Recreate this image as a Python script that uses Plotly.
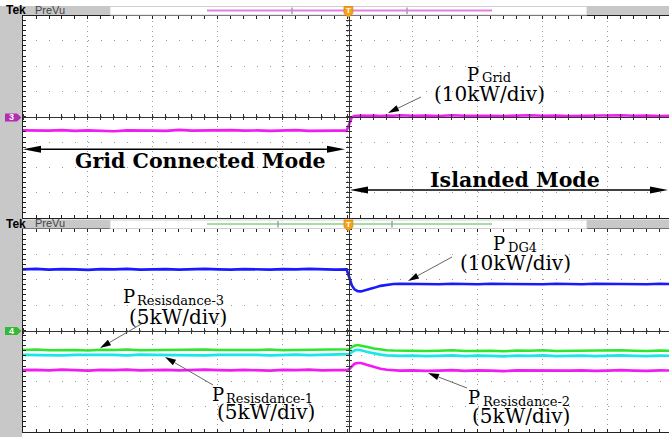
import math
import plotly.graph_objects as go

# ---------------- data (screen divisions, time relative to trigger in divisions) -------------
t_div = [-5.0, -4.8, -4.6, -4.4, -4.2, -4.0, -3.8, -3.6, -3.4, -3.2, -3.0, -2.8, -2.6, -2.4,
         -2.2, -2.0, -1.8, -1.6, -1.4, -1.2, -1.0, -0.8, -0.6, -0.4, -0.2, -0.02,
         0.02, 0.06, 0.10, 0.15, 0.20, 0.3, 0.4, 0.5, 0.6, 0.7, 0.8,
         1.0, 1.2, 1.4, 1.6, 1.8, 2.0, 2.2, 2.4, 2.6, 2.8, 3.0, 3.2, 3.4, 3.6, 3.8,
         4.0, 4.2, 4.4, 4.6, 4.8, 5.0]

# channel 3 : P_Grid (10 kW/div)
p_grid_div = [-0.54, -0.56, -0.55, -0.53, -0.56, -0.54, -0.55, -0.57, -0.54, -0.53, -0.55, -0.56,
              -0.52, -0.55, -0.54, -0.56, -0.53, -0.55, -0.54, -0.56, -0.55, -0.53, -0.56, -0.54,
              -0.55, -0.55,
              -0.30, -0.02, 0.03, 0.04, 0.05, 0.04, 0.05, 0.03, 0.05, 0.04, 0.06,
              0.04, 0.05, 0.03, 0.06, 0.04, 0.05, 0.04, 0.03, 0.05, 0.06, 0.04, 0.05, 0.03,
              0.04, 0.05, 0.04, 0.06, 0.04, 0.05, 0.03, 0.04]

# channel 1 : P_DG4 (10 kW/div)
p_dg4_div = [2.41, 2.43, 2.40, 2.42, 2.41, 2.39, 2.42, 2.41, 2.43, 2.40, 2.41, 2.42, 2.40, 2.41,
             2.43, 2.41, 2.40, 2.42, 2.41, 2.40, 2.42, 2.41, 2.43, 2.41, 2.40, 2.41,
             2.05, 1.78, 1.62, 1.55, 1.54, 1.60, 1.68, 1.76, 1.81, 1.83, 1.84,
             1.83, 1.85, 1.82, 1.84, 1.83, 1.82, 1.84, 1.83, 1.85, 1.83, 1.82, 1.84, 1.83,
             1.82, 1.84, 1.83, 1.85, 1.83, 1.82, 1.84, 1.83]

# P_Resisdance-3 (5 kW/div), green
p_res3_div = [-0.77, -0.75, -0.78, -0.76, -0.77, -0.79, -0.76, -0.77, -0.75, -0.78, -0.77, -0.76,
              -0.78, -0.77, -0.75, -0.77, -0.78, -0.76, -0.77, -0.75, -0.78, -0.77, -0.76, -0.78,
              -0.77, -0.76,
              -0.74, -0.66, -0.60, -0.57, -0.59, -0.65, -0.71, -0.75, -0.78, -0.79, -0.80,
              -0.79, -0.81, -0.80, -0.78, -0.81, -0.79, -0.80, -0.82, -0.79, -0.80, -0.78,
              -0.81, -0.80, -0.79, -0.81, -0.80, -0.78, -0.80, -0.81, -0.79, -0.80]

# P_Resisdance-1 (5 kW/div), cyan
p_res1_div = [-0.96, -0.97, -0.95, -0.98, -0.96, -0.95, -0.97, -0.96, -0.98, -0.95, -0.96, -0.97,
              -0.95, -0.96, -0.98, -0.96, -0.95, -0.97, -0.96, -0.98, -0.96, -0.95, -0.97, -0.96,
              -0.95, -0.96,
              -0.93, -0.85, -0.79, -0.76, -0.78, -0.85, -0.91, -0.95, -0.98, -0.99, -1.00,
              -0.99, -1.01, -1.00, -0.98, -1.01, -0.99, -1.00, -1.02, -0.99, -1.00, -0.98,
              -1.01, -1.00, -0.99, -1.01, -1.00, -0.98, -1.00, -1.01, -0.99, -1.00]

# P_Resisdance-2 (5 kW/div), magenta
p_res2_div = [-1.56, -1.55, -1.57, -1.54, -1.56, -1.58, -1.55, -1.56, -1.54, -1.57, -1.56, -1.55,
              -1.57, -1.56, -1.54, -1.56, -1.57, -1.55, -1.56, -1.58, -1.55, -1.56, -1.54, -1.57,
              -1.56, -1.56,
              -1.52, -1.40, -1.31, -1.28, -1.28, -1.36, -1.44, -1.51, -1.55, -1.57, -1.58,
              -1.57, -1.59, -1.58, -1.56, -1.59, -1.57, -1.58, -1.60, -1.57, -1.58, -1.56,
              -1.59, -1.58, -1.57, -1.59, -1.58, -1.56, -1.58, -1.59, -1.57, -1.58]

# ---------------- geometry helpers (layout positions in window pixels) ----------------
W, H = 669, 437


def fx(x):
    return x / W


def fy(y):
    return 1 - y / H


def path(pts):
    return "M " + " L ".join(f"{fx(x):.5f},{fy(y):.5f}" for x, y in pts) + " Z"


XR = [-5.0, 4.94]
YR = [-4, 4]
XDOM = [fx(23), 1.0]
Y1DOM = [fy(218), fy(15.5)]
Y2DOM = [fy(432), fy(229)]
TRIG_PX = 348.5

GRID_C = "#9a9a9a"
AX_C = "#222222"

fig = go.Figure()

fig.add_trace(go.Scatter(x=t_div, y=p_grid_div, mode="lines",
                         line=dict(color="#f21cf2", width=2.6), xaxis="x", yaxis="y"))
fig.add_trace(go.Scatter(x=t_div, y=p_dg4_div, mode="lines",
                         line=dict(color="#1a1aff", width=2.6), xaxis="x2", yaxis="y2"))
fig.add_trace(go.Scatter(x=t_div, y=p_res1_div, mode="lines",
                         line=dict(color="#19e6e6", width=2.6), xaxis="x2", yaxis="y2"))
fig.add_trace(go.Scatter(x=t_div, y=p_res3_div, mode="lines",
                         line=dict(color="#2ee62e", width=2.6), xaxis="x2", yaxis="y2"))
fig.add_trace(go.Scatter(x=t_div, y=p_res2_div, mode="lines",
                         line=dict(color="#f21cf2", width=2.6), xaxis="x2", yaxis="y2"))

# dummy traces so the crosshair overlay axes get subplots
for xa, ya in [("x3", "y"), ("x4", "y"), ("x", "y3"), ("x", "y4"),
               ("x5", "y2"), ("x6", "y2"), ("x2", "y5"), ("x2", "y6")]:
    fig.add_trace(go.Scatter(x=[None], y=[None], xaxis=xa, yaxis=ya,
                             showlegend=False, hoverinfo="skip"))

minor_ticks = dict(dtick=0.2, tick0=0, ticks="inside", ticklen=3,
                   tickcolor=AX_C, showgrid=False)


def main_x(anchor):
    return dict(domain=XDOM, range=XR, anchor=anchor, dtick=1, tick0=0,
                showgrid=True, gridcolor=GRID_C, griddash="1px,4px", gridwidth=1,
                showline=True, linecolor=AX_C, linewidth=1, mirror="ticks",
                ticks="inside", ticklen=3, tickcolor=AX_C, showticklabels=False,
                zeroline=False, minor=minor_ticks)


def main_y(anchor, dom):
    return dict(domain=dom, range=YR, anchor=anchor, dtick=1, tick0=0,
                showgrid=True, gridcolor=GRID_C, griddash="1px,12px", gridwidth=1,
                showline=True, linecolor=AX_C, linewidth=1, mirror=False,
                ticks="inside", ticklen=3, tickcolor=AX_C, showticklabels=False,
                zeroline=False, minor=minor_ticks)


def cross_x(base, pos, side, line):
    return dict(overlaying=base, anchor="free", position=pos, side=side, domain=XDOM,
                range=XR, showline=line, linecolor="#333333", linewidth=1,
                ticks="outside", ticklen=2.5, tickcolor="#333333", dtick=0.2, tick0=0,
                showticklabels=False, showgrid=False, zeroline=False)


def cross_y(base, dom, side, line):
    return dict(overlaying=base, anchor="free", position=fx(TRIG_PX), side=side,
                domain=dom, range=YR, showline=line, linecolor="#333333", linewidth=1,
                ticks="outside", ticklen=2.5, tickcolor="#333333", dtick=0.2, tick0=0,
                showticklabels=False, showgrid=False, zeroline=False)


c1 = fy((15.5 + 218) / 2)
c2 = fy((229 + 432) / 2)

fig.update_layout(
    width=W, height=H, margin=dict(l=0, r=0, t=0, b=0),
    paper_bgcolor="white", plot_bgcolor="white", showlegend=False,
    xaxis=main_x("y"), yaxis=main_y("x", Y1DOM),
    xaxis2=main_x("y2"), yaxis2=main_y("x2", Y2DOM),
    xaxis3=cross_x("x", c1, "bottom", True), xaxis4=cross_x("x", c1, "top", False),
    yaxis3=cross_y("y", Y1DOM, "left", True), yaxis4=cross_y("y", Y1DOM, "right", False),
    xaxis5=cross_x("x2", c2, "bottom", True), xaxis6=cross_x("x2", c2, "top", False),
    yaxis5=cross_y("y2", Y2DOM, "left", True), yaxis6=cross_y("y2", Y2DOM, "right", False),
)

shapes = []
annotations = []

# left grey strip
shapes.append(dict(type="rect", xref="paper", yref="paper", x0=0, x1=fx(22),
                   y0=0, y1=fy(15), fillcolor="#c8c8c8", line=dict(width=0)))


def header(y0, line_color, brackets):
    y1 = y0 + 9
    shapes.append(dict(type="rect", xref="paper", yref="paper", x0=0, x1=fx(110),
                       y0=fy(y1), y1=fy(y0), fillcolor="#c8c8c8", line=dict(width=0)))
    shapes.append(dict(type="rect", xref="paper", yref="paper", x0=fx(110), x1=fx(587),
                       y0=fy(y1), y1=fy(y0 + 0.5), fillcolor="white",
                       line=dict(color="#d0d0d0", width=1)))
    shapes.append(dict(type="rect", xref="paper", yref="paper", x0=fx(587), x1=1,
                       y0=fy(y1), y1=fy(y0), fillcolor="#c8c8c8", line=dict(width=0)))
    ym = y0 + 4.5
    shapes.append(dict(type="line", xref="paper", yref="paper", x0=fx(207), x1=fx(492),
                       y0=fy(ym), y1=fy(ym), line=dict(color=line_color, width=2)))
    for bx in brackets:
        shapes.append(dict(type="line", xref="paper", yref="paper", x0=fx(bx), x1=fx(bx),
                           y0=fy(y0 + 1.5), y1=fy(y1 - 1), line=dict(color="#a0a0a0", width=1.5)))
    # trigger marker
    shapes.append(dict(type="path", xref="paper", yref="paper",
                       path=path([(344, y0 + 0.5), (352.8, y0 + 0.5), (352.8, y0 + 7.5),
                                  (348.4, y0 + 11.5), (344, y0 + 7.5)]),
                       fillcolor="#f5a11c", line=dict(color="#e08800", width=0.8)))
    annotations.append(dict(text="<b>T</b>", x=fx(348.4), y=fy(y0 + 4.5), xref="paper",
                            yref="paper", showarrow=False, xanchor="center", yanchor="middle",
                            font=dict(family="Liberation Sans", size=8, color="white")))
    annotations.append(dict(text="<b>Tek</b>", x=fx(4), y=fy(y0 + 4.5), xref="paper",
                            yref="paper", showarrow=False, xanchor="left", yanchor="middle",
                            font=dict(family="Liberation Sans", size=12, color="black")))
    annotations.append(dict(text="PreVu", x=fx(33), y=fy(y0 + 4.0), xref="paper",
                            yref="paper", showarrow=False, xanchor="left", yanchor="middle",
                            font=dict(family="Liberation Sans", size=11, color="#444444")))


header(6, "#e27ee2", [292, 407])
header(219.5, "#a6dca6", [278, 392])


def ch_marker(yc, color, label):
    shapes.append(dict(type="path", xref="paper", yref="paper",
                       path=path([(5, yc - 4), (17, yc - 4), (21.5, yc), (17, yc + 4), (5, yc + 4)]),
                       fillcolor=color, line=dict(width=0)))
    annotations.append(dict(text=f"<b>{label}</b>", x=fx(11.5), y=fy(yc), xref="paper",
                            yref="paper", showarrow=False, xanchor="center", yanchor="middle",
                            font=dict(family="Liberation Sans", size=9, color="white")))


ch_marker(117.5, "#b32db3", "3")
ch_marker(331, "#35b835", "4")


# double headed mode arrows
def mode_arrow(x_left, x_right, y):
    shapes.append(dict(type="line", xref="paper", yref="paper", x0=fx(x_left + 5),
                       x1=fx(x_right - 5), y0=fy(y), y1=fy(y), line=dict(color="black", width=1.6)))
    shapes.append(dict(type="path", xref="paper", yref="paper",
                       path=path([(x_left, y), (x_left + 18, y - 3.5), (x_left + 18, y + 3.5)]),
                       fillcolor="black", line=dict(width=0)))
    shapes.append(dict(type="path", xref="paper", yref="paper",
                       path=path([(x_right, y), (x_right - 18, y - 3.5), (x_right - 18, y + 3.5)]),
                       fillcolor="black", line=dict(width=0)))


mode_arrow(23, 345, 149.3)
mode_arrow(350, 668, 190)

BOLD = dict(family="DejaVu Serif", size=20.5, color="black", weight="bold")
annotations.append(dict(text="Grid Connected Mode", x=fx(200), y=fy(160.5), xref="paper",
                        yref="paper", showarrow=False, xanchor="center", yanchor="middle",
                        font=BOLD))
annotations.append(dict(text="Islanded Mode", x=fx(515), y=fy(180), xref="paper",
                        yref="paper", showarrow=False, xanchor="center", yanchor="middle",
                        font=BOLD))

# signal labels: big "P", small subscript, and the scale line
P_FONT = dict(family="DejaVu Serif", size=18, color="black")
SUB_FONT = dict(family="DejaVu Serif", size=13, color="black")
SCALE_FONT = dict(family="DejaVu Serif", size=20, color="black")
labels = [
    # (P centre x, P centre y, subscript, sub left x, sub centre y, scale text, scale cx, scale cy)
    (473, 74, "Grid", 480, 78, "(10kW/div)", 489, 93.5),
    (499, 243.5, "DG4", 506, 247.5, "(10kW/div)", 515, 263),
    (129, 296, "Resisdance-3", 135, 300, "(5kW/div)", 178, 317),
    (217.5, 394, "Resisdance-1", 224, 398.5, "(5kW/div)", 266, 412),
    (474, 397.5, "Resisdance-2", 481, 401.5, "(5kW/div)", 521, 415.5),
]
for pxc, pyc, sub, sx, sy, scale, cx, cy in labels:
    annotations.append(dict(text="P", x=fx(pxc), y=fy(pyc), xref="paper", yref="paper",
                            showarrow=False, xanchor="center", yanchor="middle", font=P_FONT))
    annotations.append(dict(text=sub, x=fx(sx), y=fy(sy), xref="paper", yref="paper",
                            showarrow=False, xanchor="left", yanchor="middle", font=SUB_FONT))
    annotations.append(dict(text=scale, x=fx(cx), y=fy(cy), xref="paper", yref="paper",
                            showarrow=False, xanchor="center", yanchor="middle", font=SCALE_FONT))

# thin pointer arrows (head, tail)
pointer_arrows = [((388, 113), (421, 97)), ((408, 281), (452, 257)),
                  ((100, 348), (143, 323)), ((165, 357), (213, 385)),
                  ((428, 373), (467, 388))]
for (hx, hy), (tx, ty) in pointer_arrows:
    dx, dy = hx - tx, hy - ty
    d = math.hypot(dx, dy)
    ux, uy = dx / d, dy / d
    L, w = 11, 3.2
    bx, by = hx - L * ux, hy - L * uy
    nx, ny = -uy, ux
    shapes.append(dict(type="line", xref="paper", yref="paper", x0=fx(tx), y0=fy(ty),
                       x1=fx(bx), y1=fy(by), line=dict(color="#555555", width=0.9)))
    shapes.append(dict(type="path", xref="paper", yref="paper",
                       path=path([(hx, hy), (bx + w * nx, by + w * ny), (bx - w * nx, by - w * ny)]),
                       fillcolor="black", line=dict(width=0)))

fig.update_layout(shapes=shapes, annotations=annotations)
fig.write_html("out.html", config={"displayModeBar": False},
               post_script="document.body.style.margin='0px';document.body.style.padding='0px';")
